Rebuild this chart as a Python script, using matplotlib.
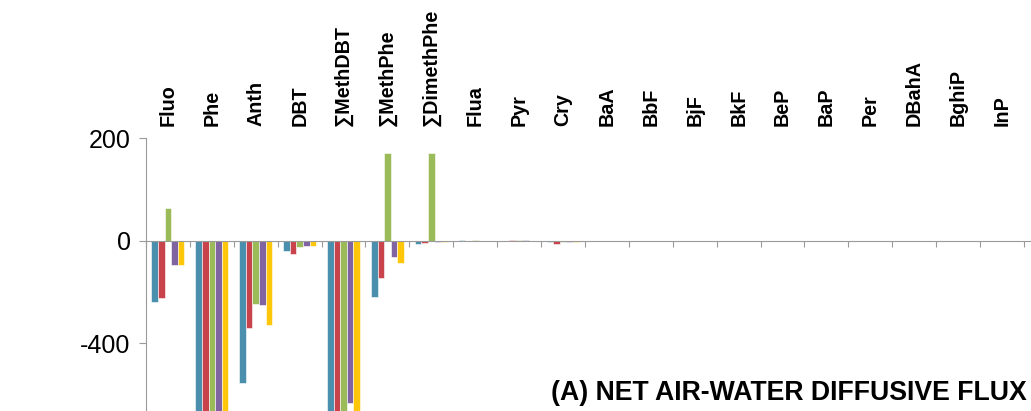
import matplotlib
matplotlib.use("Agg")
import matplotlib.pyplot as plt
import numpy as np

categories = ["Fluo", "Phe", "Anth", "DBT", "\u2211MethDBT", "\u2211MethPhe", "\u2211DimethPhe",
              "Flua", "Pyr", "Cry", "BaA", "BbF", "BjF", "BkF", "BeP", "BaP", "Per",
              "DBahA", "BghiP", "InP"]

series_1 = [-238, -700, -555, -40, -700, -219, -12, 2, 1, -4, 0, 0, 0, 0, 0, 0, 0, 0, 0, 0]
series_2 = [-225, -700, -340, -50, -700, -145, -8, 1, 2, -12, 0, 0, 0, 0, 0, 0, 0, 0, 0, 0]
series_3 = [129, -700, -246, -25, -700, 344, 344, 4, 3, -3, 0, 0, 0, 0, 0, 0, 0, 0, 0, 0]
series_4 = [-94, -700, -250, -20, -635, -62, -6, 1, 2, -6, 0, 0, 0, 0, 0, 0, 0, 0, 0, 0]
series_5 = [-94, -700, -330, -20, -700, -85, -5, 1, 1, -3, 0, 0, 0, 0, 0, 0, 0, 0, 0, 0]

y_ticks = [400, 0, -400]
y_tick_labels = ["200", "0", "-400"]
title_text = "(A) NET AIR-WATER DIFFUSIVE FLUX"

colors = ["#4a8fae", "#c8434b", "#9bbb59", "#8064a2", "#ffc60a"]
all_series = [series_1, series_2, series_3, series_4, series_5]

W, H = 1031, 411
fig = plt.figure(figsize=(W / 100, H / 100), dpi=100)
left, right = 146 / W, 1031 / W
bottom, top = 0.0, (H - 138.5) / H
ax = fig.add_axes([left, bottom, right - left, top - bottom])

x = np.arange(len(categories))
bw = 0.15
for k, (vals, c) in enumerate(zip(all_series, colors)):
    ax.bar(x + (k - 2) * bw, vals, width=bw, color=c, edgecolor="white", linewidth=0.4, zorder=2)

ax.set_xlim(-0.5, 19.66)
ax.set_ylim(-665, 400)

for s in ["top", "right"]:
    ax.spines[s].set_visible(False)
ax.spines["bottom"].set_position(("data", 0))
ax.spines["bottom"].set_color("#9a9a9a")
ax.spines["left"].set_color("#9a9a9a")
ax.spines["bottom"].set_zorder(3)

ax.set_yticks(y_ticks)
ax.set_yticklabels(y_tick_labels, fontsize=18, family="Liberation Sans")
ax.tick_params(axis="y", direction="out", length=5, color="#9a9a9a", pad=6)

ax.set_xticks(np.arange(-0.5, 20, 1.0))
ax.set_xticklabels([])
ax.tick_params(axis="x", direction="out", length=4, color="#9a9a9a")

for i, lab in enumerate(categories):
    ax.annotate(lab, xy=(i, 1.0), xycoords=("data", "axes fraction"),
                xytext=(0, 9), textcoords="offset points",
                rotation=90, ha="center", va="bottom",
                fontsize=14.2, fontweight="bold", family="Liberation Sans")

fig.text(1027 / W, 1 - 393 / H, title_text, ha="right", va="center",
         fontsize=19.2, fontweight="bold", family="Liberation Sans")

fig.savefig("out.png", dpi=100)
